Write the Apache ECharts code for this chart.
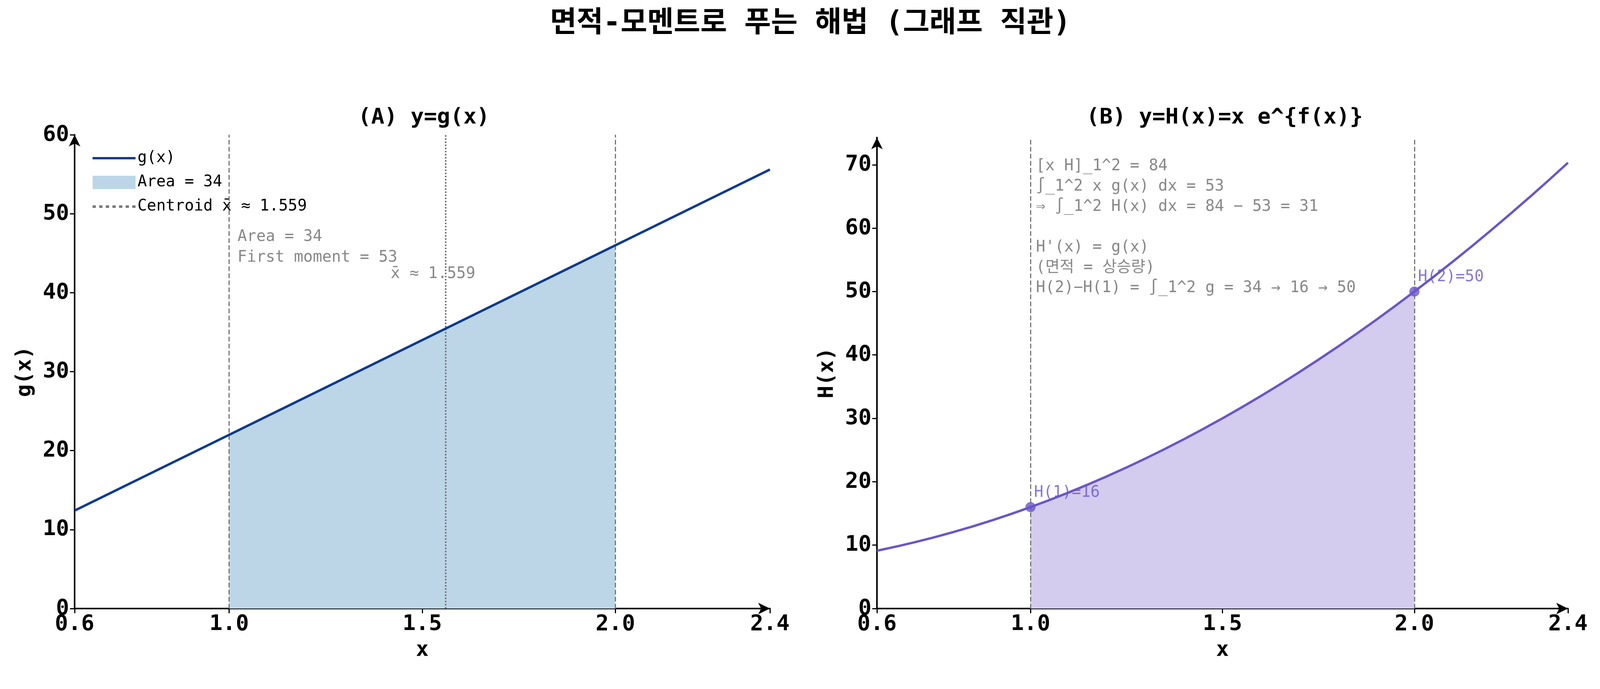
<!DOCTYPE html>
<html>
<head>
<meta charset="utf-8">
<script src="https://cdn.jsdelivr.net/npm/echarts@6/dist/echarts.min.js"></script>
<style>html,body{margin:0;padding:0;background:#fff}#c{width:4149px;height:1764px}</style>
</head>
<body>
<div id="c"></div>
<script>
// ---- data
var xTicks = [0.6, 1.0, 1.5, 2.0, 2.4];
var gPts = [[0.6, 12.4], [1.0, 22], [2.0, 46], [2.4, 55.6]];
var gFill = [[1.0, 22], [2.0, 46]];
var centroidX = 1.559;
var hPts = [[0.6, 9.12], [0.7, 10.48], [0.8, 12.08], [0.9, 13.92], [1.0, 16], [1.1, 18.32], [1.2, 20.88],
	[1.3, 23.68], [1.4, 26.72], [1.5, 30], [1.6, 33.52], [1.7, 37.28], [1.8, 41.28], [1.9, 45.52],
	[2.0, 50], [2.1, 54.72], [2.2, 59.68], [2.3, 64.88], [2.4, 70.32]];
var hFill = hPts.slice(4, 15);
var hMarks = [[1.0, 16, 'H(1)=16'], [2.0, 50, 'H(2)=50']];
var gTicks = [0, 10, 20, 30, 40, 50, 60];
var hTicks = [0, 10, 20, 30, 40, 50, 60, 70];
var noteLines = ['[x H]_1^2 = 84', '∫_1^2 x g(x) dx = 53', '⇒ ∫_1^2 H(x) dx = 84 − 53 = 31', '',
	"H'(x) = g(x)", '(면적 = 상승량)', 'H(2)−H(1) = ∫_1^2 g = 34 → 16 → 50'];

var FONT = '"DejaVu Sans Mono", "Noto Sans CJK KR", monospace';
var chart = echarts.init(document.getElementById('c'));

function xAxis(idx) {
	return {
		gridIndex: idx, type: 'value', min: 0.6, max: 2.4, name: 'x', nameLocation: 'middle', nameGap: 80,
		nameTextStyle: {fontSize: 54, fontWeight: 'bold', fontFamily: FONT, color: '#000'},
		splitLine: {show: false},
		axisLine: {lineStyle: {color: '#000', width: 4}, symbol: ['none', 'arrow'], symbolSize: [22, 30]},
		axisTick: {show: true, customValues: xTicks, length: 12, lineStyle: {width: 3}},
		axisLabel: {customValues: xTicks, fontSize: 56, fontWeight: 'bold', fontFamily: FONT, color: '#000', margin: 12,
			formatter: function (v) { return v.toFixed(1); }}
	};
}
function yAxis(idx, max, ticks, name) {
	return {
		gridIndex: idx, type: 'value', min: 0, max: max, name: name, nameLocation: 'middle', nameGap: 100,
		nameTextStyle: {fontSize: 54, fontWeight: 'bold', fontFamily: FONT, color: '#000'},
		splitLine: {show: false},
		axisLine: {lineStyle: {color: '#000', width: 4}, symbol: ['none', 'arrow'], symbolSize: [22, 30]},
		axisTick: {show: true, customValues: ticks, length: 12, lineStyle: {width: 3}},
		axisLabel: {customValues: ticks, fontSize: 56, fontWeight: 'bold', fontFamily: FONT, color: '#000', margin: 14}
	};
}
var vline = {type: 'dashed', color: '#777', width: 3};

chart.setOption({
	animation: false,
	title: [
		{text: '면적-모멘트로 푸는 해법 (그래프 직관)', left: 'center', top: 20,
			textStyle: {fontSize: 74, fontWeight: 'bold', fontFamily: FONT, color: '#000'}},
		{text: '(A) y=g(x)', left: 1080, textAlign: 'center', top: 268,
			textStyle: {fontSize: 56, fontWeight: 'bold', fontFamily: FONT, color: '#000'}},
		{text: '(B) y=H(x)=x e^{f(x)}', left: 3130, textAlign: 'center', top: 268,
			textStyle: {fontSize: 56, fontWeight: 'bold', fontFamily: FONT, color: '#000'}}
	],
	grid: [
		{left: 191, right: 2178, top: 345, bottom: 206},
		{left: 2245, right: 135, top: 352, bottom: 206}
	],
	xAxis: [xAxis(0), xAxis(1)],
	yAxis: [yAxis(0, 60, gTicks, 'g(x)'), yAxis(1, 74.3, hTicks, 'H(x)')],
	legend: {
		left: 232, top: 380, orient: 'vertical', itemGap: 22, itemWidth: 110, itemHeight: 34,
		textStyle: {fontSize: 40, fontFamily: FONT, color: '#000'},
		data: [{name: 'g(x)', icon: 'path://M0,14 L110,14 L110,20 L0,20 Z'}, {name: 'Area = 34', icon: 'rect'},
			{name: 'Centroid x̄ ≈ 1.559', icon: 'path://M0,14 L8,14 L8,20 L0,20 Z M16,14 L24,14 L24,20 L16,20 Z M32,14 L40,14 L40,20 L32,20 Z M48,14 L56,14 L56,20 L48,20 Z M64,14 L72,14 L72,20 L64,20 Z M80,14 L88,14 L88,20 L80,20 Z M96,14 L104,14 L104,20 L96,20 Z'}]
	},
	series: [
		{name: 'Area = 34', type: 'line', xAxisIndex: 0, yAxisIndex: 0, data: gFill, symbol: 'none',
			lineStyle: {width: 0}, areaStyle: {color: '#bcd6e8', opacity: 1}, itemStyle: {color: '#bcd6e8'},
			markLine: {silent: true, symbol: 'none', label: {show: false}, lineStyle: vline,
				data: [{xAxis: 1.0}, {xAxis: 2.0}]}},
		{name: 'Centroid x̄ ≈ 1.559', type: 'line', xAxisIndex: 0, yAxisIndex: 0, data: [], itemStyle: {color: '#777'},
			markLine: {silent: true, symbol: 'none', label: {show: false},
				lineStyle: {type: 'dotted', color: '#777', width: 4}, data: [{xAxis: centroidX}]}},
		{name: 'g(x)', type: 'line', xAxisIndex: 0, yAxisIndex: 0, data: gPts, symbol: 'none',
			lineStyle: {color: '#0a3a8f', width: 6}, itemStyle: {color: '#0a3a8f'}, z: 5},
		{type: 'line', xAxisIndex: 1, yAxisIndex: 1, data: hFill, symbol: 'none', smooth: true,
			lineStyle: {width: 0}, areaStyle: {color: '#d3ccee', opacity: 1},
			markLine: {silent: true, symbol: 'none', label: {show: false}, lineStyle: vline,
				data: [{xAxis: 1.0}, {xAxis: 2.0}]}},
		{type: 'line', xAxisIndex: 1, yAxisIndex: 1, data: hPts, symbol: 'none', smooth: true,
			lineStyle: {color: '#6a55c9', width: 6}, z: 5},
		{type: 'scatter', xAxisIndex: 1, yAxisIndex: 1, symbolSize: 26, itemStyle: {color: '#6a55c9'}, z: 6,
			data: hMarks.map(function (d) { return {value: [d[0], d[1]], name: d[2]}; }),
			label: {show: true, position: [22, -44], formatter: '{b}', fontSize: 40, fontFamily: FONT, color: '#6a55c9'}}
	],
	graphic: [
		{type: 'text', left: 608, top: 580, style: {text: 'Area = 34\nFirst moment = 53', fontSize: 40, lineHeight: 53, fontFamily: FONT, fill: '#888'}},
		{type: 'text', left: 1000, top: 682, style: {text: 'x̄ ≈ 1.559', fontSize: 40, fontFamily: FONT, fill: '#888'}},
		{type: 'text', left: 2652, top: 400, style: {text: noteLines.join('\n'), fontSize: 40, lineHeight: 52, fontFamily: FONT, fill: '#888'}}
	]
});
</script>
</body>
</html>
